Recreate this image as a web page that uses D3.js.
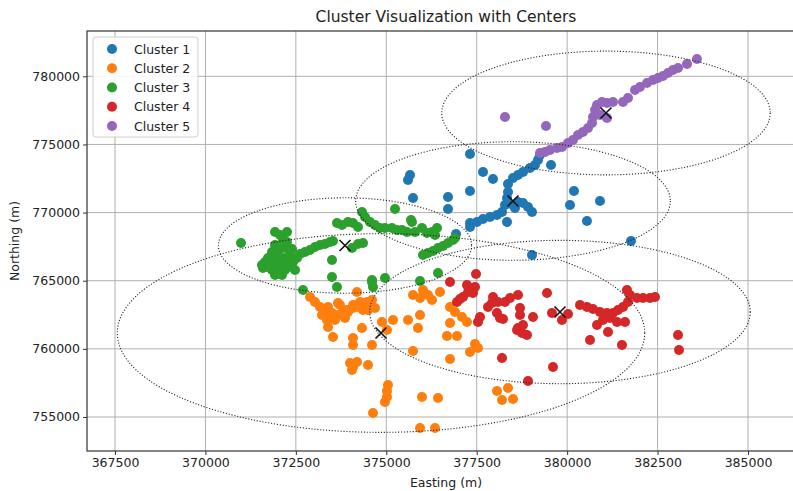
<!DOCTYPE html>
<html>
<head>
<meta charset="utf-8">
<script src="https://cdn.jsdelivr.net/npm/d3@7"></script>
<style>
  html, body { margin: 0; padding: 0; background: #ffffff; }
  svg { display: block; font-family: "DejaVu Sans", sans-serif; }
</style>
</head>
<body>
<svg id="chart" width="793" height="491"></svg>
<script>
// Cluster members as [easting, northing] in metres
const cluster1 = [
  [377314,774298],[375656,772757],[375600,772390],[377674,772977],[377950,772463],[377314,771583],
  [375739,771070],[376707,771143],[376707,770262],[376928,768428],[377314,768941],[377314,769235],
  [377507,769308],[377674,769528],[377867,769675],[378060,769822],[378199,770042],[378282,770556],
  [378337,771070],[378365,771510],[378365,772097],[378503,772537],[378641,772757],[378780,772977],
  [378973,773271],[379111,773491],[379195,773858],[379250,774225],[378503,770556],[378641,770776],
  [378780,770703],[378918,770409],[379029,770042],[378558,770336],[378337,769308],[379554,773491],
  [380189,771583],[380079,770556],[380908,770850],[380548,769381],[379029,766887],[381766,767914]
];
const cluster2 = [
  [372891,763804],[373029,763438],[373168,763071],[373223,762484],[373361,762117],[373389,761603],
  [373527,760869],[373306,762704],[373499,762631],[373665,762484],[373804,762631],[373942,762704],
  [374080,762998],[374218,763071],[374357,763365],[374467,763438],[374495,762851],[374688,762998],
  [373665,763365],[374190,764171],[373389,763071],[373859,762264],[373582,762117],[373721,763218],
  [373914,762851],[374080,763218],[374274,763438],[374605,763585],[374357,762851],[374329,761530],
  [374080,760796],[374080,760282],[374605,760282],[374881,761970],[375186,762117],[375019,761383],
  [373997,758962],[374080,758668],[374190,759035],[374052,758448],[374495,758815],[375047,757347],
  [375019,756907],[375019,756467],[374964,756100],[374633,755293],[375987,756467],[376430,756394],
  [375600,762117],[375932,762484],[375876,761530],[375739,759842],[375739,763951],[375932,763731],
  [376015,764318],[376153,763951],[376264,763585],[376485,764171],[376762,761897],[376678,760943],
  [376955,760943],[376762,763071],[376900,762704],[377093,762337],[377231,761970],[377314,759769],
  [377452,760356],[377535,760062],[376762,759255],[375932,754192],[376347,754192],[378060,756907],
  [378365,757127],[378199,756247],[378503,756320]
];
const cluster3 = [
  [370984,767767],[371924,768574],[372062,768354],[372255,768574],[372145,767987],[371924,767620],
  [371841,767107],[372007,767034],[372200,767401],[372338,766887],[372421,766373],[372283,766006],
  [372062,766300],[371924,766520],[371730,766006],[371592,765933],[371841,765786],[372117,765419],
  [372476,765786],[371924,765419],[372145,766667],[372393,767327],[372531,766667],[372615,766960],
  [372753,767107],[372891,767254],[373029,767474],[373168,767620],[373306,767694],[373444,767840],
  [373527,767914],[373499,766520],[373499,765272],[373637,764538],[372698,764318],[374052,767401],
  [374357,767767],[374218,767694],[373637,769235],[373776,769088],[373942,769308],[374080,769235],
  [374218,768941],[374329,770042],[374412,769675],[374550,769308],[374688,769088],[374826,768868],
  [374964,768868],[375158,768868],[375296,768721],[375434,768721],[375572,768574],[375711,769308],
  [375794,768574],[375987,768868],[376125,768501],[376264,768574],[376402,768868],[376347,768354],
  [375241,770262],[376015,766887],[376153,767034],[376292,767180],[376430,767401],[376568,767547],
  [376706,767767],[376845,767987],[376900,768134],[376430,765566],[375932,764979],[374964,765199],
  [374605,764905],[374633,764538],[374605,765052],[375684,769455],
  [371730,766667],[372007,767401],[372255,767840],[371647,766373],[372200,765786],[372338,766373],
  [372007,765933],[371786,766300],[371564,766153]
];
const cluster4 = [
  [377480,765492],[376762,764905],[376955,763438],[377121,763804],[377259,764171],[377231,764685],
  [377397,764098],[377452,764538],[377314,764391],[377038,763658],[377591,762337],[377535,761970],
  [377812,763071],[377950,763804],[377922,763365],[378088,763438],[378282,763438],[378420,763731],
  [378641,763951],[378060,762631],[378144,762264],[378227,762190],[378697,762998],[378697,762484],
  [379056,762337],[378641,761530],[378780,761750],[378752,761163],[378890,761016],[378614,761383],
  [379443,764098],[379581,762631],[379858,762117],[380024,762557],[380355,763218],[380548,763071],
  [380715,762925],[380908,762704],[381101,762631],[381268,762631],[381406,762851],[381544,763071],
  [381682,763438],[381738,763951],[381654,764318],[381931,763731],[382097,763731],[382291,763731],
  [382429,763804],[380991,762117],[381185,762264],[380825,761750],[381129,761236],[381378,761970],
  [381599,761970],[380632,760649],[381516,760282],[383065,761016],[383092,759916],[378199,759328],
  [379609,758668],[378918,757641]
];
const cluster5 = [
  [378282,777013],[379416,776353],[379250,774372],[379388,774445],[379526,774592],[379720,774739],
  [379858,774812],[380024,775106],[380161,775325],[380300,775692],[380438,775912],[380577,776206],
  [380687,776573],[380715,777013],[380770,777527],[380825,777894],[380963,778114],[381101,778041],
  [381268,778114],[381101,776940],[380908,777160],[381544,778114],[381682,778408],[381876,778995],
  [382014,779215],[382208,779509],[382374,779729],[382512,779876],[382650,780023],[382788,780243],
  [382926,780463],[383065,780610],[383313,780903],[383589,781270]
];

// Cluster centres and the radius of the circle drawn round each (metres)
const centers = [[378503,770850],[374854,761163],[373859,767584],[379802,762704],[381074,777307]];
const radii = [4350, 7290, 3500, 5260, 4540];

const clusterNames = ["Cluster 1", "Cluster 2", "Cluster 3", "Cluster 4", "Cluster 5"];
const clusterColors = ["#1f77b4", "#ff7f0e", "#2ca02c", "#d62728", "#9467bd"];

const xTicks = [367500, 370000, 372500, 375000, 377500, 380000, 382500, 385000];
const yTicks = [755000, 760000, 765000, 770000, 775000, 780000];

const clusters = [cluster1, cluster2, cluster3, cluster4, cluster5];

const svg = d3.select("#chart");
const margin = { left: 87, top: 31, right: -3, bottom: 40 };
const W = 793, H = 491;
const plotW = W - margin.left - margin.right;
const plotH = H - margin.top - margin.bottom;

const x = d3.scaleLinear().domain([366726, 386327]).range([margin.left, margin.left + plotW]);
const y = d3.scaleLinear().domain([752505, 783324]).range([margin.top + plotH, margin.top]);

const dotR = 5;

// Grid
const grid = svg.append("g");
grid.selectAll("line.gx").data(xTicks).join("line")
  .attr("x1", d => x(d)).attr("x2", d => x(d))
  .attr("y1", margin.top).attr("y2", margin.top + plotH)
  .attr("stroke", "#b0b0b0").attr("stroke-width", 1);
grid.selectAll("line.gy").data(yTicks).join("line")
  .attr("y1", d => y(d)).attr("y2", d => y(d))
  .attr("x1", margin.left).attr("x2", margin.left + plotW)
  .attr("stroke", "#b0b0b0").attr("stroke-width", 1);

// Scatter points
const pts = svg.append("g");
clusters.forEach((c, i) => {
  pts.append("g").selectAll("circle").data(c).join("circle")
    .attr("cx", d => x(d[0])).attr("cy", d => y(d[1]))
    .attr("r", dotR)
    .attr("fill", clusterColors[i]);
});

// Centre markers
const marks = svg.append("g");
centers.forEach(c => {
  const cx = x(c[0]), cy = y(c[1]), s = 5.5;
  marks.append("path")
    .attr("d", `M${cx - s},${cy - s}L${cx + s},${cy + s}M${cx - s},${cy + s}L${cx + s},${cy - s}`)
    .attr("stroke", "#111").attr("stroke-width", 1.6).attr("fill", "none");
});

// Circles of given radius round each centre (shown in data units)
const rings = svg.append("g");
centers.forEach((c, i) => {
  rings.append("ellipse")
    .attr("cx", x(c[0])).attr("cy", y(c[1]))
    .attr("rx", x(c[0] + radii[i]) - x(c[0]))
    .attr("ry", y(c[1]) - y(c[1] + radii[i]))
    .attr("fill", "none").attr("stroke", "#222")
    .attr("stroke-width", 1.1).attr("stroke-dasharray", "1.1,1.8");
});

// Axes
const xAxis = svg.append("g")
  .attr("transform", `translate(0,${margin.top + plotH})`)
  .call(d3.axisBottom(x).tickValues(xTicks).tickFormat(d3.format("d")).tickSize(4).tickPadding(3));
const yAxis = svg.append("g")
  .attr("transform", `translate(${margin.left},0)`)
  .call(d3.axisLeft(y).tickValues(yTicks).tickFormat(d3.format("d")).tickSize(4).tickPadding(3));
[xAxis, yAxis].forEach(a => {
  a.select(".domain").remove();
  a.selectAll("text").attr("font-size", 12.5).attr("fill", "#222").attr("font-family", "DejaVu Sans");
  a.selectAll("line").attr("stroke", "#333");
});

// Frame
svg.append("rect")
  .attr("x", margin.left).attr("y", margin.top)
  .attr("width", plotW).attr("height", plotH)
  .attr("fill", "none").attr("stroke", "#333").attr("stroke-width", 1.2);

// Title and axis labels
svg.append("text").attr("x", 446).attr("y", 22).attr("text-anchor", "middle")
  .attr("font-size", 15.5).attr("fill", "#222").text("Cluster Visualization with Centers");
svg.append("text").attr("x", 446).attr("y", 487).attr("text-anchor", "middle")
  .attr("font-size", 12.5).attr("fill", "#222").text("Easting (m)");
svg.append("text").attr("transform", "translate(19,241) rotate(-90)").attr("text-anchor", "middle")
  .attr("font-size", 12.5).attr("fill", "#222").text("Northing (m)");

// Legend
const lg = svg.append("g");
lg.append("rect").attr("x", 93).attr("y", 37).attr("width", 105).attr("height", 100)
  .attr("rx", 3).attr("fill", "#fff").attr("fill-opacity", 0.85)
  .attr("stroke", "#d0d0d0").attr("stroke-width", 1);
clusterNames.forEach((n, i) => {
  const ly = 49 + i * 19.25;
  lg.append("circle").attr("cx", 112).attr("cy", ly).attr("r", dotR).attr("fill", clusterColors[i]);
  lg.append("text").attr("x", 134).attr("y", ly + 4.5).attr("font-size", 12.5).attr("fill", "#222").text(n);
});
</script>
</body>
</html>
